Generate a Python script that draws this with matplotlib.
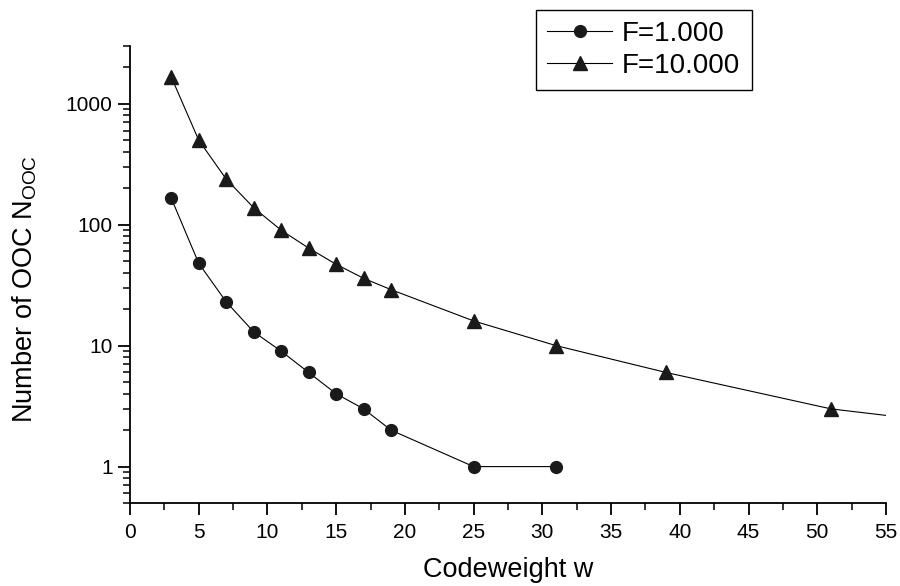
import matplotlib
matplotlib.use("Agg")
import matplotlib.pyplot as plt
from matplotlib.ticker import LogLocator, MultipleLocator, NullFormatter, FixedLocator

plt.rcParams["font.family"] = ["Liberation Sans", "DejaVu Sans"]
plt.rcParams["mathtext.fontset"] = "custom"
plt.rcParams["mathtext.rm"] = "Liberation Sans"
plt.rcParams["mathtext.it"] = "Liberation Sans:italic"

# data
w_f1 = [3, 5, 7, 9, 11, 13, 15, 17, 19, 25, 31]
n_f1 = [166, 48, 23, 13, 9, 6, 4, 3, 2, 1, 1]

w_f10 = [3, 5, 7, 9, 11, 13, 15, 17, 19, 25, 31, 39, 51]
n_f10 = [1666, 500, 238, 138, 90, 64, 47, 36, 29, 16, 10, 6, 3]

# curve for F=10 runs on past the last marker to the axis edge
w_f10_tail = [51, 55]
n_f10_tail = [3, 2.65]

fig = plt.figure(figsize=(9, 5.86), dpi=100)
ax = fig.add_axes([0.1444, 0.1416, 0.84, 0.78])

mcol = "#1a1a1a"
ax.plot(w_f1, n_f1, color="black", lw=0.8, marker="o", ms=8.5,
        mfc=mcol, mec=mcol, label="F=1.000")
ax.plot(w_f10, n_f10, color="black", lw=0.8, marker="^", ms=10,
        mfc=mcol, mec=mcol, label="F=10.000")
ax.plot(w_f10_tail, n_f10_tail, color="black", lw=0.8)

ax.set_yscale("log")
ax.set_xlim(0, 55)
ax.set_ylim(0.5, 3000)

ax.xaxis.set_major_locator(MultipleLocator(5))
ax.xaxis.set_minor_locator(MultipleLocator(2.5))
ax.yaxis.set_major_locator(FixedLocator([1, 10, 100, 1000]))
ax.yaxis.set_major_formatter(plt.FuncFormatter(lambda v, p: f"{int(v)}"))
ax.yaxis.set_minor_locator(LogLocator(base=10, subs=range(2, 10)))
ax.yaxis.set_minor_formatter(NullFormatter())

ax.spines["top"].set_visible(False)
ax.spines["right"].set_visible(False)
for s in ("left", "bottom"):
    ax.spines[s].set_linewidth(1.3)
ax.tick_params(which="major", direction="out", length=8.5, width=1.3, labelsize=15)
ax.tick_params(which="minor", direction="out", length=5, width=1.1)
ax.tick_params(axis="x", which="major", pad=6)
ax.tick_params(axis="y", which="major", pad=4)

ax.set_xlabel("Codeweight w", fontsize=19.5, labelpad=11)
ax.set_ylabel(r"Number of OOC N$_{\mathrm{OOC}}$", fontsize=19.5, labelpad=19)
ax.yaxis.label.set_y(0.468)

leg = ax.legend(loc="upper left", bbox_to_anchor=(0.5956, 0.983),
                bbox_transform=fig.transFigure, borderaxespad=0,
                fancybox=False, edgecolor="black", framealpha=1,
                fontsize=20, handlelength=2.35, handletextpad=0.35,
                labelspacing=0.2, borderpad=0.4)
leg.get_frame().set_linewidth(1.0)

fig.savefig("out.png", dpi=100)
